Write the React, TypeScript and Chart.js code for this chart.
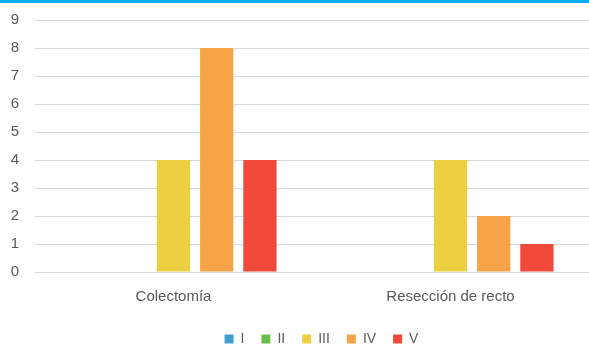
import React, { useEffect, useRef } from "react";
import { Chart, registerables } from "chart.js";

Chart.register(...registerables);

const categories = ["Colectomía", "Resección de recto"];
const seriesNames = ["I", "II", "III", "IV", "V"];
const seriesI = [0, 0];
const seriesII = [0, 0];
const seriesIII = [4, 4];
const seriesIV = [8, 2];
const seriesV = [4, 1];
const seriesColors = ["#3E9FCE", "#6DBE4E", "#EDCF42", "#F7A449", "#EF4939"];

const FONT = "'Liberation Sans', Arial, sans-serif";

export default function App() {
  const ref = useRef<HTMLCanvasElement | null>(null);
  useEffect(() => {
    document.body.style.margin = "0";
    const values = [seriesI, seriesII, seriesIII, seriesIV, seriesV];
    const legendTweak = {
      id: "legendTweak",
      beforeInit(chart: any) {
        const orig = chart.legend.fit;
        chart.legend.fit = function () {
          orig.call(this);
          this.height -= 7;
        };
      },
      afterLayout(chart: any) {
        const lg = chart.legend;
        lg.left += 27;
        lg.right += 27;
        lg.top += 1;
        lg.bottom += 1;
      },
    };
    const chart = new Chart(ref.current!, {
      type: "bar",
      data: {
        labels: categories,
        datasets: seriesNames.map((n, i) => ({
          label: n,
          data: values[i],
          backgroundColor: seriesColors[i],
          borderWidth: 0,
          categoryPercentage: 0.78,
          barPercentage: 0.77,
        })),
      },
      plugins: [legendTweak],
      options: {
        animation: false,
        responsive: false,
        maintainAspectRatio: false,
        layout: { padding: { left: 0, right: 0, top: 20, bottom: 0 } },
        plugins: {
          tooltip: { enabled: false },
          legend: {
            position: "bottom",
            labels: {
              boxWidth: 9,
              boxHeight: 9,
              padding: 17,
              color: "#595959",
              font: { family: FONT, size: 14 },
            },
          },
        },
        scales: {
          x: {
            grid: { display: false },
            border: { display: false },
            ticks: {
              color: "#595959",
              padding: 8,
              font: { family: FONT, size: 15 },
            },
          },
          y: {
            min: 0,
            max: 9,
            border: { display: false },
            grid: { color: "#D9D9D9", lineWidth: 1, drawTicks: false },
            afterFit(scale: any) {
              scale.width = 35;
              scale.paddingTop = 0;
            },
            ticks: {
              stepSize: 1,
              padding: 16,
              color: "#595959",
              font: { family: FONT, size: 15 },
            },
          },
        },
      },
    });
    return () => chart.destroy();
  }, []);
  return (
    <div style={{ position: "relative", width: 589, height: 348, background: "#fff", overflow: "hidden" }}>
      <div style={{ position: "absolute", left: 0, top: 0, width: 589, height: 3, background: "#00AEEF" }} />
      <canvas ref={ref} width={589} height={348} style={{ display: "block" }} />
    </div>
  );
}
